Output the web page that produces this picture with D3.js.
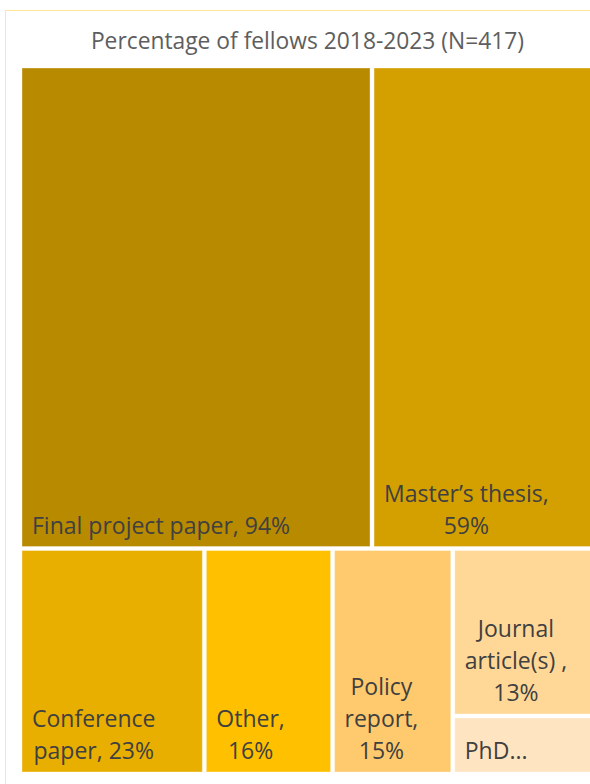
<!DOCTYPE html>
<html>
<head>
<meta charset="utf-8">
<script src="https://cdn.jsdelivr.net/npm/d3@7"></script>
<style>
  html, body { margin: 0; padding: 0; background: #ffffff; overflow: hidden; }
  svg { display: block; }
</style>
</head>
<body>
<svg id="chart" width="590" height="784"></svg>
<script>
// Output types produced by fellows, share of all fellows (percent)
const chartTitle = "Percentage of fellows 2018-2023 (N=417)";
const categories = ["Final project paper", "Master’s thesis", "Conference paper", "Other",
                    "Policy report", "Journal article(s) ", "PhD dissertation"];
const values = [94, 59, 23, 16, 15, 13, 4.5];
// tiers group the tiles into the two bands of the map
const tiers = ["upper", "upper", "lower", "lower", "lower", "lower", "lower"];
const colors = ["#B88A00", "#D4A000", "#E8AF00", "#FFC000", "#FFCA6E", "#FFD898", "#FFE4C2"];

const fontFamily = "'Segoe UI', 'Open Sans', 'Noto Sans', sans-serif";
const labelSize = 23;
const lineHeight = 32;
const labelPad = 10;

const svg = d3.select("#chart");

// card outline
svg.append("rect")
  .attr("x", 5.5).attr("y", 10.5)
  .attr("width", 700).attr("height", 900)
  .attr("fill", "#ffffff")
  .attr("stroke", "#FFE699")
  .attr("stroke-width", 1);

svg.append("text")
  .attr("x", 307.5).attr("y", 48.5)
  .attr("text-anchor", "middle")
  .attr("font-family", fontFamily)
  .attr("font-size", 22.8)
  .attr("fill", "#5E5E5E")
  .text(chartTitle);

const items = categories.map((name, i) => ({ name, value: values[i], color: colors[i], tier: tiers[i] }));
const bands = d3.groups(items, d => d.tier).map(([key, children]) => ({ name: key, children }));

const root = d3.hierarchy({ name: "root", children: bands })
  .sum(d => d.children ? 0 : d.value)
  .sort((a, b) => b.value - a.value);

d3.treemap()
  .tile(d3.treemapSquarify.ratio(1))
  .size([569, 704])
  .paddingInner(4)(root);

const g = svg.append("g").attr("transform", "translate(22,68)");

const leaves = root.leaves();
const cell = g.selectAll("g.cell").data(leaves).join("g").attr("class", "cell");

cell.append("rect")
  .attr("x", d => d.x0).attr("y", d => d.y0)
  .attr("width", d => d.x1 - d.x0).attr("height", d => d.y1 - d.y0)
  .attr("fill", d => d.data.color)
  .attr("stroke", "rgba(255,255,255,0.35)")
  .attr("stroke-width", 1);

// off-screen measuring element for wrapping
const measure = svg.append("text")
  .attr("font-family", fontFamily).attr("font-size", labelSize)
  .attr("x", -1000).attr("y", -1000);
const textWidth = s => { measure.text(s); return measure.node().getComputedTextLength(); };
const fmt = d3.format(".0f");

function wrapLines(label, maxW, maxLines) {
  const words = label.split(/\s+/).filter(w => w.length);
  const lines = [];
  let cur = "";
  words.forEach(w => {
    const test = cur ? cur + " " + w : w;
    if (!cur || textWidth(test) <= maxW) cur = test;
    else { lines.push(cur); cur = w; }
  });
  if (cur) lines.push(cur);
  if (lines.length > maxLines) {
    const kept = lines.slice(0, Math.max(1, maxLines));
    kept[kept.length - 1] = kept[kept.length - 1] + "...";
    return kept;
  }
  return lines;
}

cell.each(function(d) {
  const w = d.x1 - d.x0, h = d.y1 - d.y0;
  const label = `${d.data.name}, ${fmt(d.data.value)}%`;
  const maxLines = Math.max(1, Math.floor((h - 2 * labelPad) / lineHeight));
  const lines = wrapLines(label, w - 2 * labelPad, maxLines);
  const blockW = d3.max(lines, textWidth);
  const cx = d.x0 + labelPad + blockW / 2;
  const lastBase = d.y1 - 13;
  const t = d3.select(this).append("text")
    .attr("font-family", fontFamily)
    .attr("font-size", labelSize)
    .attr("fill", "#404040")
    .attr("text-anchor", "middle");
  lines.forEach((ln, i) => {
    t.append("tspan")
      .attr("x", cx)
      .attr("y", lastBase - (lines.length - 1 - i) * lineHeight)
      .text(ln);
  });
});

measure.remove();
</script>
</body>
</html>
